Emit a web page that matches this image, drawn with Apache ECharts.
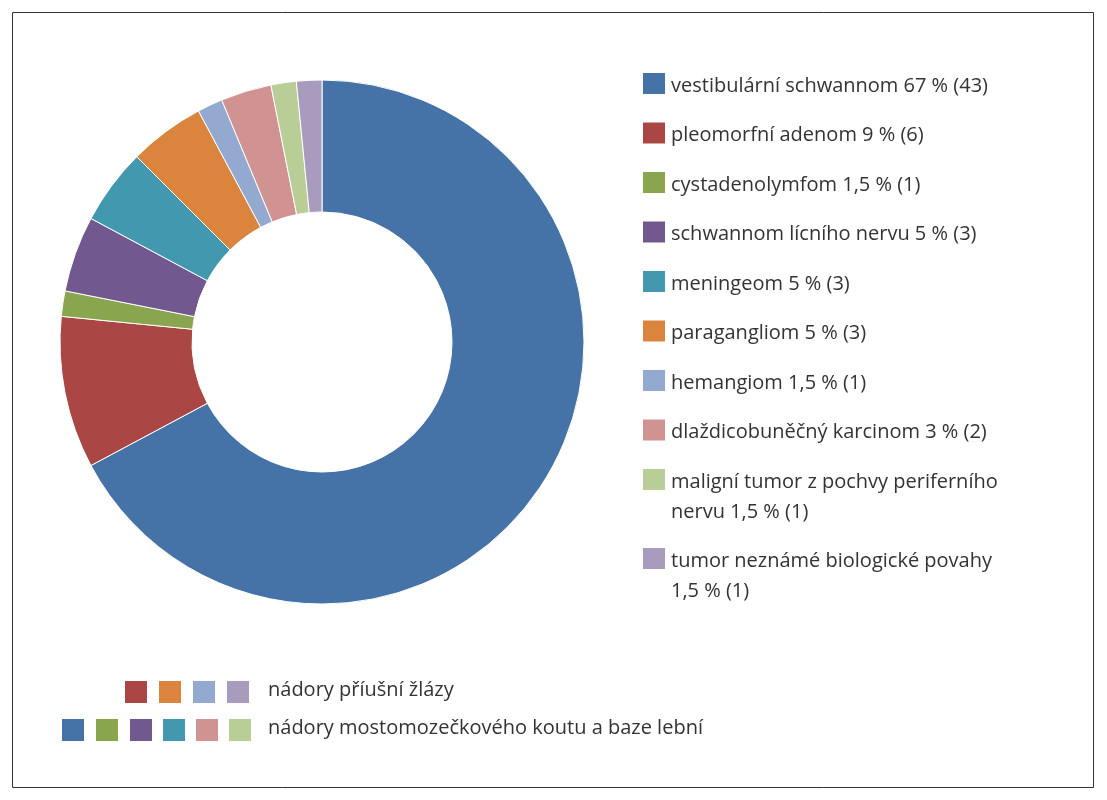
<!DOCTYPE html>
<html><head><meta charset="utf-8">
<script src="https://cdn.jsdelivr.net/npm/echarts@6/dist/echarts.min.js"></script>
<style>html,body{margin:0;padding:0;background:#fff}#c{width:1107px;height:800px}</style>
</head><body><div id="c"></div>
<script>
const categories = ["vestibulární schwannom","pleomorfní adenom","cystadenolymfom","schwannom lícního nervu","meningeom","paragangliom","hemangiom","dlaždicobuněčný karcinom","maligní tumor z pochvy periferního nervu","tumor neznámé biologické povahy"];
const counts = [43,6,1,3,3,3,1,2,1,1];
const legendLabels = ["vestibulární schwannom 67 % (43)","pleomorfní adenom 9 % (6)","cystadenolymfom 1,5 % (1)","schwannom lícního nervu 5 % (3)","meningeom 5 % (3)","paragangliom 5 % (3)","hemangiom 1,5 % (1)","dlaždicobuněčný karcinom 3 % (2)","maligní tumor z pochvy periferního\nnervu 1,5 % (1)","tumor neznámé biologické povahy\n1,5 % (1)"];
const colors = ["#4572a7","#aa4643","#89a54e","#71588f","#4198af","#db843d","#93a9cf","#d19392","#b9cd96","#a99bbd"];
const groupLabels = ["nádory příušní žlázy","nádory mostomozečkového koutu a baze lební"];
const groupMembers = [[1,5,6,9],[0,2,3,4,7,8]];

const chart = echarts.init(document.getElementById('c'));
const font = '"Open Sans", "Noto Sans", sans-serif';
const g = [];
g.push({type:'rect',shape:{x:12.5,y:12.5,width:1081,height:775},style:{fill:'none',stroke:'#333',lineWidth:1}});
let y = 73;
legendLabels.forEach((t,i)=>{
  g.push({type:'rect',shape:{x:643,y:y,width:22,height:21},style:{fill:colors[i]}});
  g.push({type:'text',x:671,y:y-2,style:{text:t,font:'20px '+font,fill:'#333',lineHeight:30}});
  y += t.includes('\n') ? 79 : 49.5;
});
const rowY=[681,719], rowX=[[125,159,193,227],[62,96,130,163,196,229]];
groupMembers.forEach((m,r)=>{
  m.forEach((ci,k)=>g.push({type:'rect',shape:{x:rowX[r][k],y:rowY[r],width:22,height:22},style:{fill:colors[ci]}}));
  g.push({type:'text',x:268,y:rowY[r]-1,style:{text:groupLabels[r],font:'20px '+font,fill:'#333'}});
});
chart.setOption({
  animation:false,
  graphic:g,
  series:[{type:'pie',center:[322,342],radius:[130,262],startAngle:90,clockwise:true,
    label:{show:false},labelLine:{show:false},
    itemStyle:{borderColor:'#fff',borderWidth:1},
    data:categories.map((n,i)=>({name:n,value:counts[i],itemStyle:{color:colors[i]}}))}]
});
</script></body></html>
